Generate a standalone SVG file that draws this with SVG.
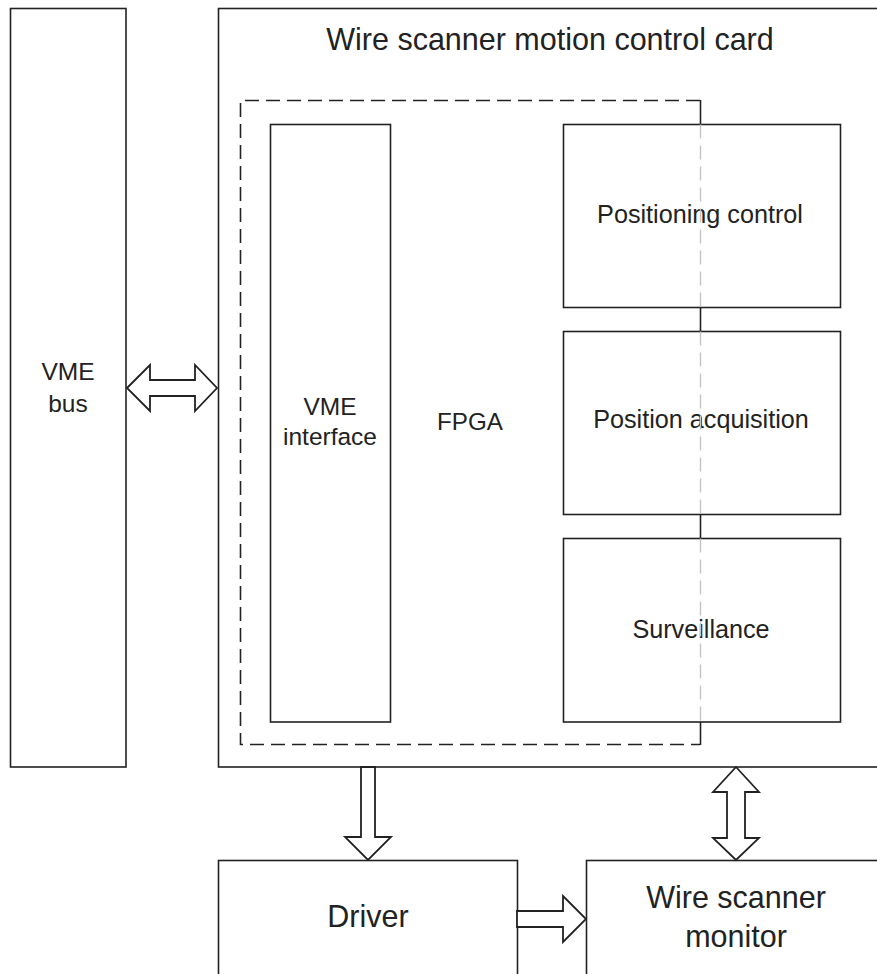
<svg xmlns="http://www.w3.org/2000/svg" width="877" height="974" viewBox="0 0 877 974">
<style>
.box{fill:#fff;stroke:#222;stroke-width:1.6}
.arr{fill:#fff;stroke:#222;stroke-width:1.8;stroke-linejoin:miter}
.t{font-family:"Liberation Sans",Arial,sans-serif;fill:#222;text-anchor:middle}
.dash{fill:none;stroke:#222;stroke-width:1.6;stroke-dasharray:14 7}
</style>
<rect width="877" height="974" fill="#fff"/>
<g id="vme-bus">
<rect class="box" x="10.5" y="8.5" width="115.5" height="758.5"/>
<text class="t" x="68" y="380" font-size="24.5">VME</text>
<text class="t" x="68" y="412" font-size="24.5">bus</text>
</g>
<g id="card">
<rect class="box" x="218.5" y="8.5" width="700" height="758.5"/>
<text class="t" x="550" y="50" font-size="30.5">Wire scanner motion control card</text>
</g>
<g id="fpga">
<path class="dash" d="M700,100.5 H240.5 V744.5 H700"/>
<text class="t" x="470" y="430" font-size="24.2">FPGA</text>
</g>
<g id="vme-interface">
<rect class="box" x="270.5" y="124.5" width="120" height="597.5"/>
<text class="t" x="330" y="415" font-size="24.5">VME</text>
<text class="t" x="330" y="445" font-size="24.5">interface</text>
</g>
<g id="positioning-control">
<rect class="box" x="563.5" y="124.5" width="277" height="183"/>
<text class="t" x="700" y="223" font-size="25.2">Positioning control</text>
</g>
<g id="position-acquisition">
<rect class="box" x="563.5" y="331.5" width="277" height="183"/>
<text class="t" x="701" y="428" font-size="25.2">Position acquisition</text>
</g>
<g id="surveillance">
<rect class="box" x="563.5" y="538.5" width="277" height="183.5"/>
<text class="t" x="701" y="638" font-size="25.2">Surveillance</text>
</g>
<g id="fpga-edge">
<path d="M700.5,100 V124.5 M700.5,307.5 V331.5 M700.5,514.5 V538.5 M700.5,722 V745" stroke="#222" stroke-width="1.6" fill="none"/>
<path d="M700.5,124.5 V307.5 M700.5,331.5 V514.5 M700.5,538.5 V722" stroke="#c4c4c4" stroke-width="1.4" stroke-dasharray="14 7" fill="none"/>
</g>
<g id="driver">
<rect class="box" x="218.5" y="860.5" width="299" height="130"/>
<text class="t" x="368" y="927" font-size="30.5">Driver</text>
</g>
<g id="wire-scanner-monitor">
<rect class="box" x="586.5" y="860.5" width="320" height="130"/>
<text class="t" x="736" y="908" font-size="30.5">Wire scanner</text>
<text class="t" x="736" y="947" font-size="30.5">monitor</text>
</g>
<g id="connectors">
<polygon class="arr" points="127,388 150,365 150,380 195,380 195,365 217,388 195,411 195,396 150,396 150,411"/>
<polygon class="arr" points="361,767 375,767 375,837 391,837 368,860 345,837 361,837"/>
<polygon class="arr" points="517,911 563,911 563,896 586,919 563,942 563,927 517,927"/>
<polygon class="arr" points="736,767 759,792 745,792 745,838 759,838 736,860 713,838 727,838 727,792 713,792"/>
</g>
</svg>
